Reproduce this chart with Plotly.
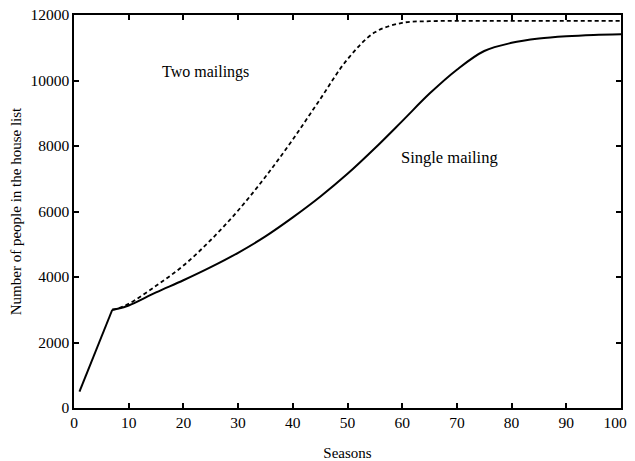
import plotly.graph_objects as go

seasons = [1, 7, 8, 10, 15, 20, 25, 30, 35, 40, 45, 50, 55, 60, 65, 70, 75, 80, 85, 90, 95, 100]
single_mailing = [500, 3000, 3030, 3130, 3530, 3900, 4300, 4740, 5240, 5820, 6450, 7150, 7930, 8760, 9600, 10330, 10900, 11150, 11280, 11350, 11390, 11410]
two_mailings = [500, 3000, 3040, 3180, 3730, 4350, 5130, 6030, 7060, 8200, 9430, 10650, 11470, 11760, 11810, 11820, 11820, 11820, 11820, 11820, 11820, 11820]

x_ticks = [0, 10, 20, 30, 40, 50, 60, 70, 80, 90, 100]
x_tick_labels = ["0", "10", "20", "30", "40", "50", "60", "70", "80", "90", "100\u00a0\u00a0\u00a0"]
y_ticks = [0, 2000, 4000, 6000, 8000, 10000, 12000]

FONT = "Liberation Serif"
k = 1  # index of knee (season 7)

fig = go.Figure()
# two mailings (dashed)
fig.add_trace(go.Scatter(x=seasons[k:], y=two_mailings[k:], mode="lines",
                         line=dict(color="black", width=1.8, dash="4px,3px", shape="spline", smoothing=1.0),
                         showlegend=False))
# single mailing (solid)
fig.add_trace(go.Scatter(x=seasons[:k + 1], y=single_mailing[:k + 1], mode="lines",
                         line=dict(color="black", width=2), showlegend=False))
fig.add_trace(go.Scatter(x=seasons[k:], y=single_mailing[k:], mode="lines",
                         line=dict(color="black", width=2, shape="spline", smoothing=1.0),
                         showlegend=False))

fig.add_annotation(x=24.1, y=10260, text="Two mailings", showarrow=False,
                   font=dict(family=FONT, size=16, color="black"))
fig.add_annotation(x=68.7, y=7650, text="Single mailing", showarrow=False,
                   font=dict(family=FONT, size=16.5, color="black"))

axis_common = dict(showgrid=False, zeroline=False, showline=True, linecolor="black", linewidth=1.5,
                   mirror="allticks", ticks="inside", ticklen=5, tickwidth=1.5, tickcolor="black",
                   automargin=False, ticklabeloverflow="allow",
                   tickfont=dict(family=FONT, size=15.5, color="black"))

fig.update_xaxes(range=[0, 100], tickvals=x_ticks, ticktext=x_tick_labels,
                 title=dict(text="Seasons", font=dict(family=FONT, size=15, color="black"), standoff=18),
                 **axis_common)
fig.update_yaxes(range=[0, 12000], tickvals=y_ticks, ticktext=[str(v) for v in y_ticks],
                 title=dict(text="Number of people in the house list", font=dict(family=FONT, size=15, color="black"), standoff=6),
                 **axis_common)

# the page body adds an 8px offset, so the figure is sized/placed to compensate
fig.update_layout(width=627, height=453, margin=dict(l=66, r=14, t=7, b=53, autoexpand=False),
                  paper_bgcolor="white", plot_bgcolor="white",
                  font=dict(family=FONT, color="black"))

fig.write_html("out.html")
